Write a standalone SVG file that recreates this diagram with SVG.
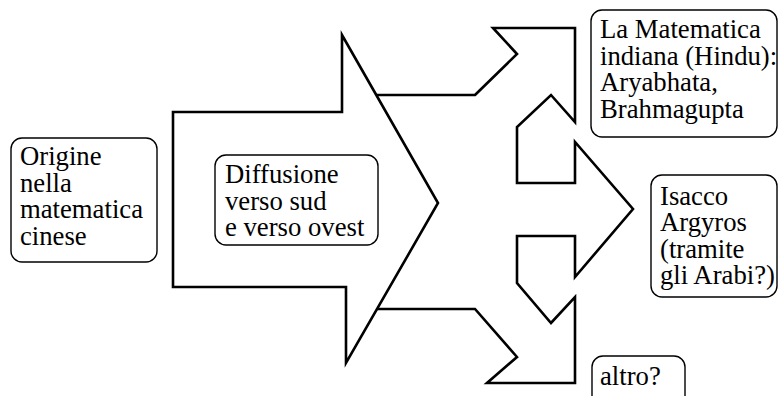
<svg xmlns="http://www.w3.org/2000/svg" width="778" height="396" viewBox="0 0 778 396">
  <style>
    .box { fill: #ffffff; stroke: #000000; stroke-width: 1.4; }
    .block { fill: #ffffff; stroke: #000000; stroke-width: 2.6; stroke-linejoin: miter; }
    text { font-family: 'Liberation Serif', 'Times New Roman', Times, 'DejaVu Serif', serif; font-size: 26.7px; fill: #000000; }
  </style>
  <rect width="778" height="396" fill="#ffffff"/>

  <!-- block arrows -->
  <g id="connectors">
    <!-- three-way branch, its left end is hidden under the main arrow -->
    <polygon class="block" points="475,95 517,54 493,28 575,28 575,122 551,95 517,127 517,183 575,183 575,142 633,209 575,277 575,236 517,236 517,283 551,323 575,297 575,383 487,383 517,357 475,309 360,309 360,95"/>
    <!-- main wide arrow -->
    <polygon class="block" points="173,112 342,112 342,35 438,203 346,363 346,287 173,287"/>
  </g>

  <g id="origine">
    <rect class="box" x="11" y="138" width="146" height="124" rx="11"/>
    <text x="20" y="165">Origine</text>
    <text x="20" y="192">nella</text>
    <text x="20" y="218">matematica</text>
    <text x="20" y="245">cinese</text>
  </g>

  <g id="diffusione">
    <rect class="box" x="215" y="155" width="163" height="90" rx="11"/>
    <text x="225" y="183">Diffusione</text>
    <text x="225" y="210">verso sud</text>
    <text x="225" y="236">e verso ovest</text>
  </g>

  <g id="indiana">
    <rect class="box" x="591" y="10" width="186" height="127" rx="11"/>
    <text x="600" y="38">La Matematica</text>
    <text x="600" y="65">indiana (Hindu):</text>
    <text x="600" y="91">Aryabhata,</text>
    <text x="600" y="118">Brahmagupta</text>
  </g>

  <g id="argyros">
    <rect class="box" x="651" y="175" width="126" height="122" rx="11"/>
    <text x="660" y="205">Isacco</text>
    <text x="660" y="231">Argyros</text>
    <text x="660" y="258">(tramite</text>
    <text x="660" y="284">gli Arabi?)</text>
  </g>

  <g id="altro">
    <rect class="box" x="592" y="356" width="93" height="60" rx="11"/>
    <text x="600" y="385">altro?</text>
  </g>
</svg>
